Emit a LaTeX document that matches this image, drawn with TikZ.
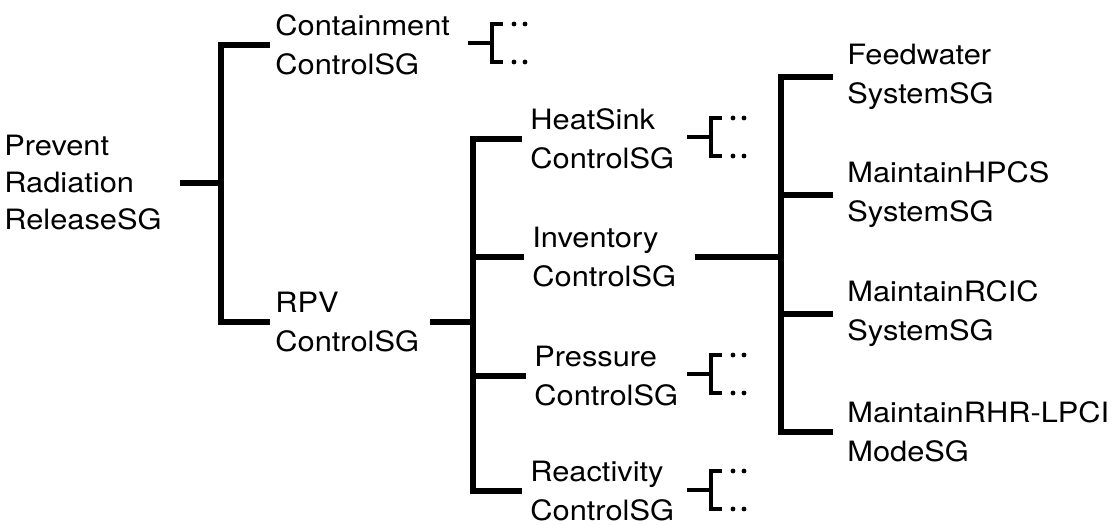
\documentclass[tikz,border=0pt]{standalone}
\usepackage{fontspec}
\setmainfont{TeX Gyre Heros}[FakeStretch=1.1]
\tikzset{
  lbl/.style={inner ysep=0pt, align=left, anchor=west, font=\fontsize{14}{19.5}\selectfont},
  lvone/.style={lbl, inner xsep=2.5pt},
  lvtwo/.style={lbl, inner xsep=4pt},
  lvthree/.style={lbl, inner xsep=7pt},
  mainline/.style={line width=2.6pt, line join=miter},
  thinline/.style={line width=1.6pt, line join=miter},
}
\newcommand\dotbrk[3]{%
  \coordinate (#1) at (#2,#3);
  \draw[thinline] (#1) -- ++(-24,0);
  \draw[thinline] (#1) ++(11,-19) -- ++(-11,0) -- ++(0,38) -- ++(11,0);
  \fill (#1) ++(22,-19) circle (1.2pt);
  \fill (#1) ++(33,-19) circle (1.2pt);
  \fill (#1) ++(22,19) circle (1.2pt);
  \fill (#1) ++(33,19) circle (1.2pt);
}
\begin{document}
\begin{tikzpicture}[x=0.5pt,y=-0.5pt]
\useasboundingbox (0,0) rectangle (1120,525);

% root
\node[lbl, inner xsep=0pt, font=\fontsize{14}{18.5}\selectfont] (root) at (4,183) {Prevent\\Radiation\\ReleaseSG};
\coordinate (rs) at (180,183);
\coordinate (j1) at (221,183);

% level 1
\node[lvone] (cont) at (270,45) {Containment\\ControlSG};
\node[lvone] (rpv) at (270,322) {RPV\\ControlSG};
\draw[mainline] (rs) -- (j1);
\draw[mainline] (cont.west) -| (j1) |- (rpv.west);

% level 2
\coordinate (rps) at (430,322);
\coordinate (j2) at (473,322);
\node[lvtwo] (heat) at (522,139) {HeatSink\\ControlSG};
\node[lvtwo] (inv) at (524,257) {Inventory\\ControlSG};
\node[lvtwo] (pres) at (526,376) {Pressure\\ControlSG};
\node[lvtwo] (reac) at (522,491) {Reactivity\\ControlSG};
\draw[mainline] (rps) -- (j2);
\draw[mainline] (heat.west) -| (j2) |- (reac.west);
\draw[mainline] (inv.west) -- (inv.west -| j2);
\draw[mainline] (pres.west) -- (pres.west -| j2);

% level 3
\coordinate (ins) at (695,257);
\coordinate (j3) at (781,257);
\node[lvthree] (feed) at (833,77) {Feedwater\\SystemSG};
\node[lvthree] (hpcs) at (833,195) {MaintainHPCS\\SystemSG};
\node[lvthree] (rcic) at (833,314) {MaintainRCIC\\SystemSG};
\node[lvthree] (rhr) at (833,432) {MaintainRHR-LPCI\\ModeSG};
\draw[mainline] (ins) -- (j3);
\draw[mainline] (feed.west) -| (j3) |- (rhr.west);
\draw[mainline] (hpcs.west) -- (hpcs.west -| j3);
\draw[mainline] (rcic.west) -- (rcic.west -| j3);

% elided brackets
\dotbrk{cb}{492}{43}
\dotbrk{hb}{711}{137}
\dotbrk{pb}{711}{374}
\dotbrk{rb}{711}{490}
\end{tikzpicture}
\end{document}
